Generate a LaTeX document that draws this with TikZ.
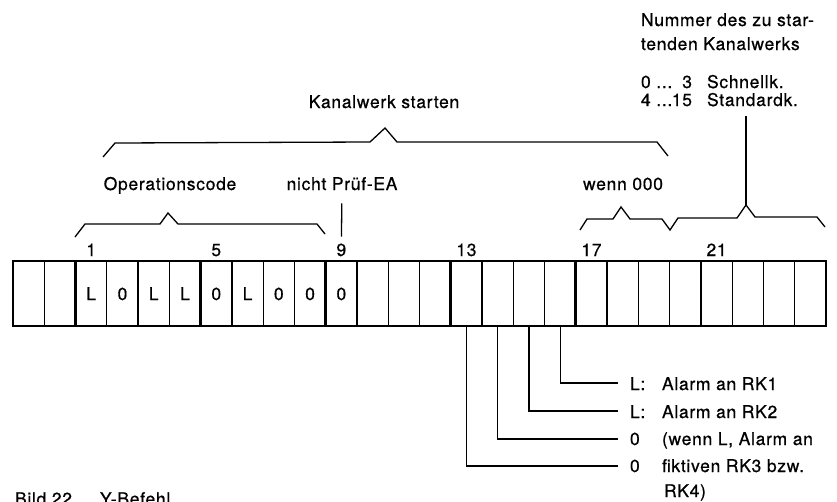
\documentclass[tikz,border=0pt]{standalone}
\usepackage{fontspec}
\setmainfont{TeX Gyre Heros}
\newfontfamily\labfont[LetterSpace=4,FakeBold=0.6]{TeX Gyre Heros}
\newcommand\labsize{\labfont\fontsize{17.5}{20}\selectfont}
\begin{document}
\begin{tikzpicture}[x=1pt,y=-1pt,
  every node/.style={font=\labsize, inner sep=0pt, outer sep=0pt},
  cell/.style={draw, line width=1.3pt, minimum width=31.27pt, minimum height=65pt},
  thinln/.style={line width=1.3pt},
  thickln/.style={line width=2.8pt}]
\useasboundingbox (0,0) rectangle (837,501);
\fill[white] (0,0) rectangle (837,501);

% register cells
\foreach \i in {0,...,25} \node[cell] (c\i) at ({13+(\i+0.5)*31.27},293.5) {};
\foreach \i in {2,6,10,14,18,22} \draw[thickln] (c\i.north west) -- (c\i.south west);
\draw[thickln] (c0.north west) rectangle (c25.south east);

% cell contents
\foreach \i/\t in {2/L,3/0,4/L,5/L,6/0,7/L,8/0,9/0,10/0}
  \node[anchor=base] (v\i) at ({13+(\i+0.5)*31.27},300) {\t};

% bit numbers
\foreach \i/\n in {2/1,6/5,10/9,14/13,18/17,22/21}
  \node[anchor=base] (n\n) at ({13+(\i+0.5)*31.27},256) {\n};

% upper labels
\node[anchor=base] (kst) at (384,108) {Kanalwerk starten};
\node[anchor=base] (opc) at (170,190) {Operationscode};
\node[anchor=base] (npe) at (342,190) {nicht Prüf-EA};
\node[anchor=base] (w000) at (623,190) {wenn 000};

\node[anchor=base west] (num1) at (641,26) {Nummer des zu star-};
\node[anchor=base west] (num2) at (641,50) {tenden Kanalwerks};
\node[anchor=base west] (r1a) at (641,88) {0 ...};
\node[anchor=base east] (r1b) at (692,88) {3};
\node[anchor=base west] (r1c) at (707,88) {Schnellk.};
\node[anchor=base west] (r2a) at (641,106) {4 ...};
\node[anchor=base east] (r2b) at (692,106) {15};
\node[anchor=base west] (r2c) at (707,106) {Standardk.};

% braces
\draw[thinln] (103,157) -- (115,143) -- (370,142) -- (385,128) -- (397,142) -- (657,142) -- (668,156);
\draw[thinln] (75,237) -- (85,224) -- (160,224) -- (168,213) -- (178,224) -- (317,224) -- (325,234);
\draw[thinln] (580,230) -- (587,219) -- (613,219) -- (621,207) -- (630,219) -- (662,219)
  -- (670,230) -- (678,218) -- (737,218) -- (746,205) -- (755,217) -- (817,217) -- (825,227);

% pointer lines
\coordinate (pk) at (746,205);
\coordinate (pktop) at (746,116);
\draw[thinln] (pk) -- (pktop);
\draw[thinln, shorten <=13pt, shorten >=7pt] (npe.south) -- (n9.north);

% lower labels
\node[anchor=base west] (k1) at (630,390) {L:};
\node[anchor=base west] (t1) at (662,390) {Alarm an RK1};
\node[anchor=base west] (k2) at (630,418) {L:};
\node[anchor=base west] (t2) at (662,418) {Alarm an RK2};
\node[anchor=base west] (k3) at (630,445) {0};
\node[anchor=base west] (t3) at (662,445) {(wenn L, Alarm an};
\node[anchor=base west] (k4) at (630,472) {0};
\node[anchor=base west] (t4) at (662,472) {fiktiven RK3 bzw.};
\node[anchor=base west] (t5) at (664,497) {RK4)};

\coordinate (e1) at (618,383);
\coordinate (e2) at (618,411);
\coordinate (e3) at (618,439);
\coordinate (e4) at (618,466);
\draw[thinln] (c17.south) |- (e1);
\draw[thinln] (c16.south) |- (e2);
\draw[thinln] (c15.south) |- (e3);
\draw[thinln] (c14.south) |- (e4);

% caption
\node[anchor=base west] (cap1) at (15,505) {Bild 22};
\node[anchor=base west] (cap2) at (100,505) {Y-Befehl};
\end{tikzpicture}
\end{document}
